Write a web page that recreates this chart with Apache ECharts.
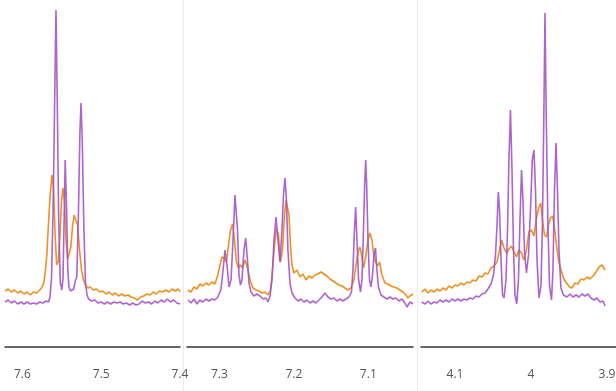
<!DOCTYPE html>
<html>
<head>
<meta charset="utf-8">
<script src="https://cdn.jsdelivr.net/npm/echarts@6/dist/echarts.min.js"></script>
<style>
html,body{margin:0;padding:0;background:#fff;}
#chart{width:616px;height:391px;}
</style>
</head>
<body>
<div id="chart"></div>
<script>
// Panel ranges (ppm, axis reversed)
const panel1Range = [7.4, 7.6221];
const panel2Range = [7.04, 7.3434];
const panel3Range = [3.8882, 4.1447];

// Panel 1: 7.62 - 7.40 ppm  [ppm, intensity]
const purple1 = [
[7.622,45],[7.618,47],[7.614,44],[7.610,46],[7.606,43],[7.602,45],[7.598,43],[7.594,45],[7.590,43],[7.586,44],
[7.582,43],[7.578,45],[7.574,44],[7.570,46],[7.567,45],[7.565,50],[7.563,70],[7.561,140],[7.559,250],[7.5574,337],
[7.556,260],[7.554,130],[7.552,65],[7.550,57],[7.5485,68],[7.547,130],[7.5457,187],[7.544,140],[7.5425,80],[7.541,60],
[7.539,56],[7.537,57],[7.535,58],[7.533,66],[7.531,70],[7.529,130],[7.527,215],[7.5256,244],[7.524,205],[7.522,120],
[7.520,65],[7.518,52],[7.516,48],[7.512,46],[7.508,47],[7.504,44],[7.500,45],[7.496,43],[7.492,45],[7.488,43],
[7.484,45],[7.480,44],[7.476,45],[7.472,43],[7.468,44],[7.464,42],[7.460,44],[7.456,42],[7.452,43],[7.448,46],
[7.444,44],[7.440,45],[7.436,43],[7.432,46],[7.428,44],[7.424,47],[7.420,45],[7.416,48],[7.412,45],[7.408,47],
[7.404,44],[7.400,43]
];
const orange1 = [
[7.622,56],[7.618,58],[7.614,55],[7.610,57],[7.606,54],[7.602,56],[7.598,53],[7.594,55],[7.590,52],[7.586,55],
[7.582,54],[7.578,57],[7.575,60],[7.573,64],[7.571,75],[7.569,92],[7.567,122],[7.565,150],[7.5625,172],[7.5605,160],
[7.5585,112],[7.5565,82],[7.5545,85],[7.5525,110],[7.5505,145],[7.5485,159],[7.5465,145],[7.5445,105],[7.5425,88],[7.5405,88],
[7.5385,100],[7.5365,120],[7.5345,132],[7.532,134],[7.530,122],[7.5275,97],[7.525,77],[7.5225,67],[7.520,62],[7.517,59],
[7.514,60],[7.510,57],[7.506,58],[7.502,55],[7.498,56],[7.494,53],[7.490,55],[7.486,52],[7.482,54],[7.478,51],
[7.474,53],[7.470,51],[7.466,52],[7.462,50],[7.458,49],[7.454,47],[7.450,50],[7.446,51],[7.442,53],[7.438,52],
[7.434,55],[7.430,53],[7.426,56],[7.422,55],[7.418,57],[7.414,55],[7.410,58],[7.406,56],[7.402,58],[7.400,55]
];

// Panel 2: 7.34 - 7.04 ppm
const purple2 = [
[7.342,47],[7.338,44],[7.334,48],[7.330,43],[7.326,47],[7.322,45],[7.318,48],[7.314,46],[7.310,48],[7.306,47],
[7.302,50],[7.298,57],[7.295,77],[7.2924,97],[7.2897,82],[7.2870,60],[7.2843,67],[7.2816,107],[7.2790,152],[7.2776,154],
[7.2756,117],[7.2736,72],[7.2716,62],[7.2696,67],[7.2669,97],[7.2646,109],[7.2622,87],[7.2602,64],[7.2575,55],[7.2535,51],
[7.2494,53],[7.2454,51],[7.2414,48],[7.2374,49],[7.2347,45],[7.2320,51],[7.2293,67],[7.2266,107],[7.2239,130],[7.2213,107],
[7.2186,85],[7.2159,117],[7.2139,152],[7.2119,169],[7.2099,147],[7.2079,97],[7.2052,64],[7.2025,54],[7.1984,49],[7.1944,46],
[7.1904,48],[7.1864,45],[7.1823,47],[7.1783,44],[7.1743,46],[7.1703,44],[7.1663,47],[7.1622,50],[7.1582,54],[7.1542,50],
[7.1502,48],[7.1461,49],[7.1421,46],[7.1381,48],[7.1341,46],[7.1300,48],[7.1260,50],[7.1226,55],[7.1206,77],[7.1186,117],
[7.1170,140],[7.1152,107],[7.1132,69],[7.1105,55],[7.1085,67],[7.1065,117],[7.1049,162],[7.1035,187],[7.1022,162],[7.1004,107],
[7.0984,67],[7.0964,60],[7.0944,72],[7.0924,92],[7.0904,99],[7.0884,77],[7.0864,60],[7.0830,52],[7.0790,50],[7.0749,48],
[7.0709,50],[7.0669,48],[7.0629,49],[7.0589,46],[7.0548,48],[7.0508,44],[7.0481,40],[7.0441,45],[7.0400,43]
];
const orange2 = [
[7.342,57],[7.338,55],[7.334,60],[7.330,58],[7.326,63],[7.322,61],[7.318,64],[7.314,62],[7.310,65],[7.306,63],
[7.302,72],[7.2991,82],[7.2964,90],[7.2937,89],[7.2904,85],[7.2877,102],[7.2850,117],[7.2821,123],[7.2797,107],[7.2770,85],
[7.2743,79],[7.2716,82],[7.2689,79],[7.2655,87],[7.2622,79],[7.2588,67],[7.2548,59],[7.2508,57],[7.2468,56],[7.2427,54],
[7.2387,55],[7.2347,52],[7.2313,57],[7.2286,77],[7.2259,102],[7.2233,119],[7.2206,112],[7.2179,85],[7.2152,97],[7.2125,132],
[7.2105,147],[7.2085,149],[7.2065,132],[7.2045,102],[7.2025,82],[7.1998,74],[7.1958,77],[7.1917,70],[7.1877,73],[7.1837,67],
[7.1796,71],[7.1756,69],[7.1716,72],[7.1676,73],[7.1635,75],[7.1595,73],[7.1555,71],[7.1515,68],[7.1474,66],[7.1434,64],
[7.1394,62],[7.1354,61],[7.1313,59],[7.1273,57],[7.1233,59],[7.1193,67],[7.1159,85],[7.1132,97],[7.1112,100],[7.1092,92],
[7.1065,79],[7.1031,92],[7.1004,107],[7.0978,114],[7.0951,107],[7.0931,94],[7.0904,85],[7.0877,81],[7.0850,85],[7.0817,72],
[7.0776,64],[7.0736,63],[7.0696,61],[7.0656,60],[7.0615,59],[7.0575,57],[7.0535,55],[7.0494,52],[7.0468,49],[7.0441,51],
[7.0400,53]
];

// Panel 3: 4.14 - 3.90 ppm
const purple3 = [
[4.1438,45],[4.1395,43],[4.1355,46],[4.1316,43],[4.1276,45],[4.1237,44],[4.1197,47],[4.1158,45],[4.1118,47],[4.1079,45],
[4.1039,48],[4.1000,46],[4.0961,48],[4.0921,46],[4.0882,48],[4.0842,47],[4.0803,49],[4.0763,48],[4.0724,51],[4.0684,50],
[4.0645,53],[4.0605,54],[4.0566,58],[4.0526,63],[4.0493,72],[4.0467,92],[4.0447,122],[4.0430,155],[4.0414,137],[4.0394,87],
[4.0375,52],[4.0355,49],[4.0329,67],[4.0309,117],[4.0290,187],[4.0270,237],[4.0250,177],[4.0230,97],[4.0211,52],[4.0188,43],
[4.0165,67],[4.0145,127],[4.0125,177],[4.0106,147],[4.0086,97],[4.0060,74],[4.0033,92],[4.0007,137],[3.9983,187],[3.9961,197],
[3.9941,157],[3.9921,87],[3.9895,49],[3.9868,62],[3.9849,127],[3.9832,227],[3.9816,334],[3.9799,227],[3.9779,127],[3.9757,62],
[3.9730,47],[3.9711,77],[3.9691,157],[3.9671,204],[3.9652,157],[3.9632,97],[3.9606,59],[3.9573,52],[3.9526,50],[3.9487,53],
[3.9447,50],[3.9408,52],[3.9368,50],[3.9329,53],[3.9289,51],[3.9250,53],[3.9211,49],[3.9171,47],[3.9132,49],[3.9092,45],
[3.9053,46],[3.9027,41]
];
const orange3 = [
[4.1438,55],[4.1395,58],[4.1355,54],[4.1316,57],[4.1276,55],[4.1237,58],[4.1197,56],[4.1158,59],[4.1118,57],[4.1079,61],
[4.1039,59],[4.1000,62],[4.0961,61],[4.0921,64],[4.0882,62],[4.0842,65],[4.0803,64],[4.0763,67],[4.0724,66],[4.0684,71],
[4.0645,70],[4.0605,74],[4.0566,73],[4.0526,79],[4.0487,81],[4.0447,85],[4.0414,97],[4.0386,107],[4.0355,99],[4.0322,94],
[4.0290,98],[4.0257,101],[4.0224,95],[4.0191,90],[4.0158,97],[4.0125,94],[4.0093,87],[4.0060,97],[4.0027,115],[3.9994,117],
[3.9961,111],[3.9928,129],[3.9895,140],[3.9872,144],[3.9849,127],[3.9823,112],[3.9796,110],[3.9770,122],[3.9744,129],[3.9715,131],
[3.9691,119],[3.9665,102],[3.9638,87],[3.9606,77],[3.9573,69],[3.9533,64],[3.9494,60],[3.9461,59],[3.9421,64],[3.9382,63],
[3.9342,68],[3.9303,67],[3.9263,70],[3.9224,68],[3.9184,71],[3.9145,75],[3.9105,80],[3.9066,82],[3.9027,77]
];

const intensityMax = 337;
const purpleColor = '#a452cc';
const orangeColor = '#f0901e';

const chart = echarts.init(document.getElementById('chart'), null, {renderer: 'canvas'});

function fmt(v) {
  const t = Math.round(v * 10);
  if (Math.abs(v * 10 - t) > 1e-6) return '';
  return String(t / 10);
}

const ranges = [panel1Range, panel2Range, panel3Range];
const grids = [
  {left: 5, width: 175, top: 10, height: 337, containLabel: false, outerBoundsMode: 'none'},
  {left: 187, width: 226, top: 10, height: 337, containLabel: false, outerBoundsMode: 'none'},
  {left: 421, width: 195, top: 10, height: 337, containLabel: false, outerBoundsMode: 'none'}
];
const xAxes = ranges.map((r, i) => ({
  type: 'value', gridIndex: i, inverse: true, min: r[0], max: r[1],
  minInterval: 0.1, maxInterval: 0.1, splitNumber: 3,
  axisLine: {show: true, lineStyle: {color: '#333', width: 1.5}},
  axisTick: {show: false},
  splitLine: {show: false},
  axisLabel: {margin: 22, color: '#555', fontSize: 12, fontFamily: 'Open Sans, DejaVu Sans, sans-serif', formatter: fmt}
}));
const yAxes = ranges.map((r, i) => ({
  type: 'value', gridIndex: i, min: 0, max: intensityMax, show: false
}));

const pairs = [[orange1, purple1], [orange2, purple2], [orange3, purple3]];
const series = [];
pairs.forEach((p, i) => {
  series.push({type: 'line', xAxisIndex: i, yAxisIndex: i, data: p[0], showSymbol: false,
    lineStyle: {color: orangeColor, width: 1.6}, itemStyle: {color: orangeColor}, z: 2, animation: false});
  series.push({type: 'line', xAxisIndex: i, yAxisIndex: i, data: p[1], showSymbol: false,
    lineStyle: {color: purpleColor, width: 1.6, opacity: 0.9}, itemStyle: {color: purpleColor}, z: 3, animation: false});
});

chart.setOption({
  animation: false,
  grid: grids,
  xAxis: xAxes,
  yAxis: yAxes,
  series: series,
  graphic: [
    {type: 'line', shape: {x1: 183.5, y1: 0, x2: 183.5, y2: 391}, style: {stroke: '#ececec', lineWidth: 1}, silent: true},
    {type: 'line', shape: {x1: 417.5, y1: 0, x2: 417.5, y2: 391}, style: {stroke: '#ececec', lineWidth: 1}, silent: true}
  ]
});
</script>
</body>
</html>
